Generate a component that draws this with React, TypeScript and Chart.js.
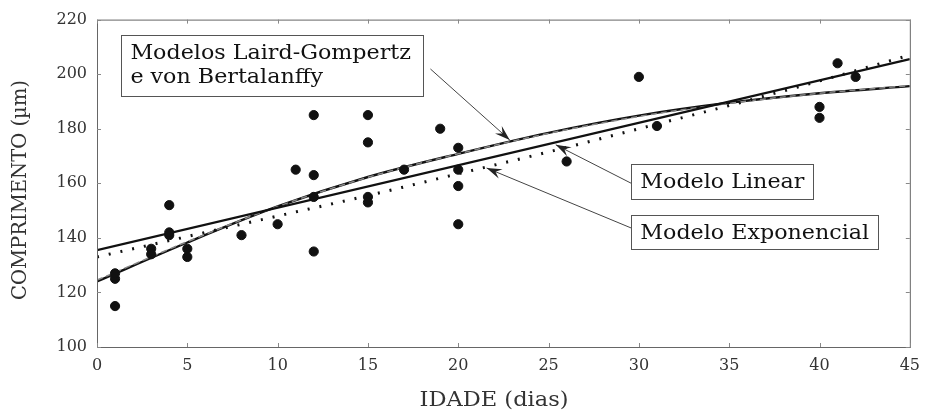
import React, { useEffect, useRef } from "react";
import { Chart, registerables } from "chart.js";

Chart.register(...registerables);

// Observed data (age in days, length in µm)
const obsAge = [1, 1, 1, 3, 3, 4, 4, 4, 5, 5, 8, 10, 11, 12, 12, 12, 12, 15, 15, 15, 15, 17, 19, 20, 20, 20, 20, 26, 30, 31, 40, 40, 41, 42];
const obsLength = [115, 125, 127, 136, 134, 152, 141, 142, 136, 133, 141, 145, 165, 185, 163, 155, 135, 185, 175, 155, 153, 165, 180, 173, 165, 159, 145, 168, 199, 181, 188, 184, 204, 199];

// Fitted model curves
const modelAge = [0, 5, 10, 15, 20, 25, 30, 35, 40, 45];
const gompertzLength = [124, 138.3, 151.5, 162.3, 170.8, 178.5, 184.8, 189.5, 193, 195.6];
const bertalanffyLength = [124.5, 138.6, 151.5, 162.2, 170.8, 178.3, 184.5, 189.3, 193, 195.8];
const exponentialLength = [133, 140.5, 148, 155.5, 163.5, 171.5, 180, 188.5, 197.5, 207];
const linearAge = [0, 45];
const linearLength = [135.5, 205.5];

// Axis ticks
const xTicks = [0, 5, 10, 15, 20, 25, 30, 35, 40, 45];
const yTicks = [100, 120, 140, 160, 180, 200, 220];

// Texts
const xTitle = "IDADE (dias)";
const yTitle = "COMPRIMENTO (µm)";
const labelGompertz = ["Modelos Laird-Gompertz", "e von Bertalanffy"];
const labelLinear = ["Modelo Linear"];
const labelExponential = ["Modelo Exponencial"];

const SERIF = "'DejaVu Serif', serif";

const annotations = [
  { lines: labelGompertz, box: { x0: 1.35, y0: 214.2, x1: 18.05, y1: 192 }, from: { x: 18.46, y: 201.9 }, to: { x: 22.85, y: 175.9 } },
  { lines: labelLinear, box: { x0: 29.58, y0: 166.9, x1: 39.67, y1: 154.2 }, from: { x: 29.58, y: 160 }, to: { x: 25.4, y: 174.1 } },
  { lines: labelExponential, box: { x0: 29.58, y0: 148.4, x1: 43.28, y1: 136 }, from: { x: 29.58, y: 143.6 }, to: { x: 21.57, y: 165.6 } },
];

function drawArrow(ctx: CanvasRenderingContext2D, x1: number, y1: number, x2: number, y2: number) {
  const ang = Math.atan2(y2 - y1, x2 - x1);
  const len = 16;
  const half = 0.32;
  ctx.save();
  ctx.strokeStyle = "#444";
  ctx.lineWidth = 1;
  ctx.beginPath();
  ctx.moveTo(x1, y1);
  ctx.lineTo(x2, y2);
  ctx.stroke();
  ctx.fillStyle = "#222";
  ctx.beginPath();
  ctx.moveTo(x2, y2);
  ctx.lineTo(x2 - len * Math.cos(ang - half), y2 - len * Math.sin(ang - half));
  ctx.lineTo(x2 - len * 0.6 * Math.cos(ang), y2 - len * 0.6 * Math.sin(ang));
  ctx.lineTo(x2 - len * Math.cos(ang + half), y2 - len * Math.sin(ang + half));
  ctx.closePath();
  ctx.fill();
  ctx.restore();
}

const TEXT_STRETCH = 1.11;

const decorPlugin = {
  id: "decor",
  afterDatasetsDraw(chart: any) {
    const { ctx, chartArea, scales } = chart;
    const xs = scales.x;
    const ys = scales.y;
    ctx.save();
    // frame
    ctx.strokeStyle = "#666";
    ctx.lineWidth = 1;
    ctx.strokeRect(chartArea.left + 0.5, chartArea.top + 0.5, chartArea.right - chartArea.left, chartArea.bottom - chartArea.top);
    // inward ticks
    ctx.strokeStyle = "#888";
    ctx.beginPath();
    xTicks.forEach((v) => {
      const px = Math.round(xs.getPixelForValue(v)) + 0.5;
      ctx.moveTo(px, chartArea.bottom);
      ctx.lineTo(px, chartArea.bottom - 4);
      ctx.moveTo(px, chartArea.top);
      ctx.lineTo(px, chartArea.top + 4);
    });
    yTicks.forEach((v) => {
      const py = Math.round(ys.getPixelForValue(v)) + 0.5;
      ctx.moveTo(chartArea.left, py);
      ctx.lineTo(chartArea.left + 4, py);
      ctx.moveTo(chartArea.right, py);
      ctx.lineTo(chartArea.right - 4, py);
    });
    ctx.stroke();

    // axis titles
    ctx.fillStyle = "#333";
    ctx.font = "20px " + SERIF;
    ctx.textAlign = "center";
    ctx.textBaseline = "middle";
    {
      const w = ctx.measureText(xTitle).width;
      const s = 149 / w;
      ctx.save();
      ctx.translate(494, 401);
      ctx.scale(s, 1);
      ctx.fillText(xTitle, 0, 0);
      ctx.restore();
    }
    {
      const w = ctx.measureText(yTitle).width;
      const s = 220 / w;
      ctx.save();
      ctx.translate(21, 190);
      ctx.rotate(-Math.PI / 2);
      ctx.scale(s, 1);
      ctx.fillText(yTitle, 0, 0);
      ctx.restore();
    }

    // annotations
    ctx.font = "20px " + SERIF;
    annotations.forEach((a) => {
      const bx0 = xs.getPixelForValue(a.box.x0);
      const by0 = ys.getPixelForValue(a.box.y0);
      let bx1 = xs.getPixelForValue(a.box.x1);
      const by1 = ys.getPixelForValue(a.box.y1);
      const tw = Math.max(...a.lines.map((l) => ctx.measureText(l).width)) * TEXT_STRETCH;
      bx1 = Math.max(bx1, bx0 + tw + 18);
      drawArrow(ctx, xs.getPixelForValue(a.from.x), ys.getPixelForValue(a.from.y), xs.getPixelForValue(a.to.x), ys.getPixelForValue(a.to.y));
      ctx.fillStyle = "#fff";
      ctx.fillRect(bx0, by0, bx1 - bx0, by1 - by0);
      ctx.strokeStyle = "#555";
      ctx.lineWidth = 1;
      ctx.strokeRect(Math.round(bx0) + 0.5, Math.round(by0) + 0.5, Math.round(bx1 - bx0), Math.round(by1 - by0));
      ctx.fillStyle = "#111";
      ctx.textBaseline = "alphabetic";
      ctx.textAlign = "left";
      a.lines.forEach((l, i) => {
        ctx.save();
        ctx.translate(bx0 + 9, by0 + 24 + i * 24);
        ctx.scale(TEXT_STRETCH, 1);
        ctx.fillText(l, 0, 0);
        ctx.restore();
      });
    });
    ctx.restore();
  },
};

export default function App() {
  const ref = useRef<HTMLCanvasElement | null>(null);

  useEffect(() => {
    if (!ref.current) return;
    const toPts = (xs: number[], ys: number[]) => xs.map((x, i) => ({ x, y: ys[i] }));
    const chart = new Chart(ref.current, {
      type: "scatter",
      data: {
        datasets: [
          {
            label: "Observado",
            data: toPts(obsAge, obsLength),
            backgroundColor: "#111",
            borderColor: "#111",
            pointRadius: 4.6,
            pointHoverRadius: 4.6,
            showLine: false,
          },
          {
            label: "Modelo Linear",
            data: toPts(linearAge, linearLength),
            showLine: true,
            borderColor: "#111",
            borderWidth: 2.2,
            pointRadius: 0,
          },
          {
            label: "Modelo Exponencial",
            data: toPts(modelAge, exponentialLength),
            showLine: true,
            borderColor: "#111",
            borderWidth: 3,
            borderDash: [2, 10],
            cubicInterpolationMode: "monotone",
            pointRadius: 0,
          },
          {
            label: "von Bertalanffy",
            data: toPts(modelAge, bertalanffyLength),
            showLine: true,
            borderColor: "#888",
            borderWidth: 1.5,
            borderDash: [6, 4],
            cubicInterpolationMode: "monotone",
            pointRadius: 0,
          },
          {
            label: "Laird-Gompertz",
            data: toPts(modelAge, gompertzLength),
            showLine: true,
            borderColor: "#111",
            borderWidth: 2.4,
            cubicInterpolationMode: "monotone",
            pointRadius: 0,
          },
        ],
      },
      options: {
        animation: false,
        responsive: true,
        maintainAspectRatio: false,
        layout: { padding: { top: 17, right: 12, left: 0, bottom: 0 } },
        plugins: { legend: { display: false }, tooltip: { enabled: false } },
        scales: {
          x: {
            type: "linear",
            min: 0,
            max: 45,
            afterBuildTicks: (s: any) => {
              s.ticks = xTicks.map((v) => ({ value: v }));
            },
            afterFit: (s: any) => {
              s.height = 69;
            },
            grid: { display: false, drawTicks: false },
            border: { display: false },
            ticks: { padding: 9, color: "#333", font: { family: SERIF, size: 16 }, maxRotation: 0 },
            title: { display: false, text: xTitle },
          },
          y: {
            type: "linear",
            min: 100,
            max: 220,
            afterBuildTicks: (s: any) => {
              s.ticks = yTicks.map((v) => ({ value: v }));
            },
            afterFit: (s: any) => {
              s.width = 97;
            },
            grid: { display: false, drawTicks: false },
            border: { display: false },
            ticks: { padding: 10, color: "#333", font: { family: SERIF, size: 16 } },
            title: { display: false, text: yTitle },
          },
        },
      },
      plugins: [decorPlugin],
    } as any);
    return () => chart.destroy();
  }, []);

  return (
    <div style={{ position: "absolute", left: 0, top: 0, width: 929, height: 416, background: "#fff" }}>
      <canvas ref={ref} />
    </div>
  );
}
